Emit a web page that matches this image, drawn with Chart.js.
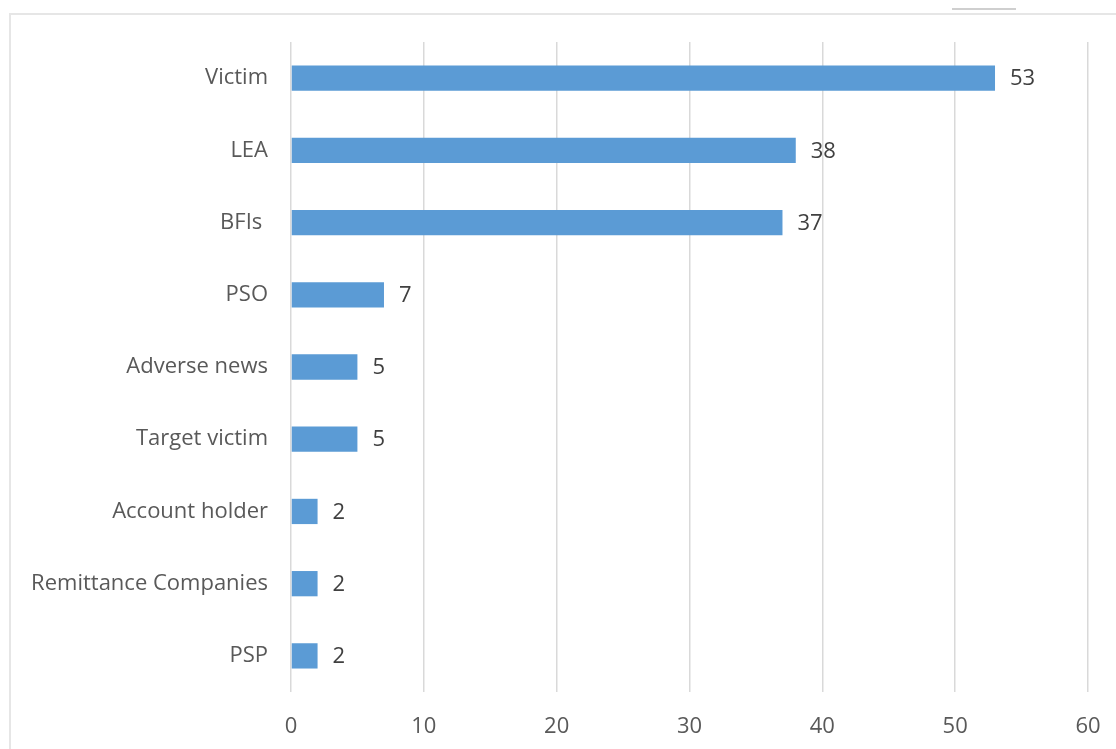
<!DOCTYPE html>
<html>
<head>
<meta charset="utf-8">
<script src="https://cdn.jsdelivr.net/npm/chart.js@4/dist/chart.umd.min.js"></script>
<style>
  html, body { margin: 0; padding: 0; background: #fff; }
  #wrap { position: relative; width: 1116px; height: 749px; }
  #frame { position: absolute; left: 9px; top: 13px; right: 0; bottom: 0;
           border-left: 2px solid #e6e6e6; border-top: 2px solid #e6e6e6; }
  #tab { position: absolute; left: 952px; top: 8px; width: 64px; height: 2px; background: #cfcfcf; }
  canvas { position: absolute; left: 0; top: 0; }
</style>
</head>
<body>
<div id="wrap">
  <div id="frame"></div>
  <div id="tab"></div>
  <canvas id="chart" width="1116" height="749"></canvas>
</div>
<script>
// chart data
const categories = ['Victim', 'LEA', 'BFIs ', 'PSO', 'Adverse news', 'Target victim',
  'Account holder', 'Remittance Companies', 'PSP'];
const counts = [53, 38, 37, 7, 5, 5, 2, 2, 2];
const xTicks = [0, 10, 20, 30, 40, 50, 60];

const FONT = "'Open Sans', sans-serif";

// draws the value next to the end of each bar
const valueLabels = {
  id: 'valueLabels',
  afterDatasetsDraw(chart) {
    const ctx = chart.ctx;
    const meta = chart.getDatasetMeta(0);
    ctx.save();
    ctx.font = '22px ' + FONT;
    ctx.fillStyle = '#404040';
    ctx.textAlign = 'left';
    ctx.textBaseline = 'middle';
    meta.data.forEach((bar, i) => {
      ctx.fillText(String(counts[i]), bar.x + 15, bar.y + 1);
    });
    ctx.restore();
  }
};

new Chart(document.getElementById('chart'), {
  type: 'bar',
  data: {
    labels: categories,
    datasets: [{
      data: counts,
      backgroundColor: '#5B9BD5',
      borderWidth: 0,
      categoryPercentage: 1,
      barPercentage: 0.35
    }]
  },
  options: {
    indexAxis: 'y',
    responsive: false,
    animation: false,
    layout: { padding: { top: 42, right: 28, left: 0, bottom: 0 } },
    plugins: { legend: { display: false }, tooltip: { enabled: false } },
    scales: {
      x: {
        min: 0,
        max: 60,
        afterBuildTicks: s => { s.ticks = xTicks.map(v => ({ value: v })); },
        afterFit: s => { s.height = 57; s.paddingLeft = 0; s.paddingRight = 0; },
        grid: { color: '#d9d9d9', lineWidth: 1.5, drawTicks: false },
        border: { display: false },
        ticks: { color: '#595959', font: { family: FONT, size: 22 }, padding: 22 }
      },
      y: {
        afterFit: s => { s.width = 291; },
        grid: { display: false },
        border: { display: false },
        ticks: { color: '#595959', font: { family: FONT, size: 22 }, padding: 15 }
      }
    }
  },
  plugins: [valueLabels]
});
</script>
</body>
</html>
